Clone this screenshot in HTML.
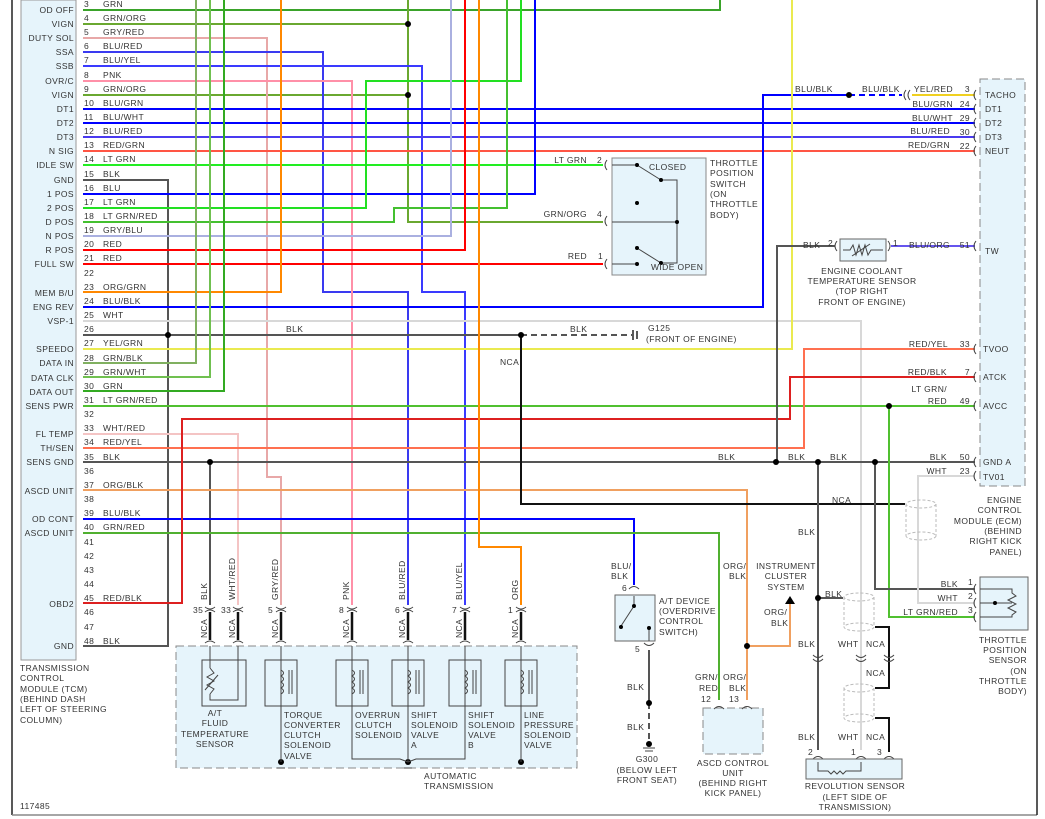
<!DOCTYPE html>
<html><head><meta charset="utf-8"><style>
html,body{margin:0;padding:0;background:#fff}
svg{display:block}
text{font-family:"Liberation Sans",sans-serif;font-size:8.5px;fill:#333;letter-spacing:0.4px}
.r{text-anchor:end}.m{text-anchor:middle}
.w{fill:none;stroke-width:2}
.k{fill:none;stroke:#444;stroke-width:1}
</style></head><body>
<svg width="1045" height="819" viewBox="0 0 1045 819" xmlns="http://www.w3.org/2000/svg">
<line x1="12" y1="0" x2="12" y2="815" stroke="#222" stroke-width="1.5"/>
<line x1="12" y1="815" x2="1037" y2="815" stroke="#888" stroke-width="1.5"/>
<line x1="1037" y1="0" x2="1037" y2="815" stroke="#222" stroke-width="1.5"/>
<rect x="21" y="0" width="55" height="660" fill="#e6f4fb" stroke="#999" stroke-width="1"/>
<rect x="980" y="79" width="45" height="407" fill="#e6f4fb" stroke="#888" stroke-dasharray="8,4"/>
<rect x="176" y="646" width="401" height="122" fill="#e6f4fb" stroke="#888" stroke-dasharray="8,4"/>
<rect x="703" y="708" width="60" height="46" fill="#e6f4fb" stroke="#888" stroke-dasharray="8,4"/>

<g class="w">
<polyline points="83,10 720,10 720,0" stroke="#3aa32a"/>
<polyline points="83,24 408,24" stroke="#6aa830"/>
<polyline points="83,95 408,95" stroke="#6aa830"/>
<polyline points="408,0 408,222 603,222" stroke="#6aa830"/>
<polyline points="83,38 267,38 267,477 281,477 281,605" stroke="#e8a8a8"/>
<polyline points="83,52 323,52 323,292 408,292 408,605" stroke="#3a3af0"/>
<polyline points="83,66 422,66 422,292 465,292 465,605" stroke="#3a3aff"/>
<polyline points="83,81 352,81 352,605" stroke="#ff90a8"/>
<polyline points="83,109 975,109" stroke="#0000ff"/>
<polyline points="83,123 975,123" stroke="#0000ff"/>
<polyline points="83,137 975,137" stroke="#4a3af0"/>
<polyline points="83,151 975,151" stroke="#ff5544"/>
<polyline points="83,165 603,165" stroke="#22ee22"/>
<polyline points="83,180 168,180 168,646 83,646" stroke="#555"/>
<polyline points="83,194 535,194 535,0" stroke="#0000ff"/>
<polyline points="83,208 366,208 366,81 521,81 521,0" stroke="#22e022"/>
<polyline points="83,222 394,222 394,208 507,208 507,0" stroke="#44c030"/>
<polyline points="83,236 451,236 451,0" stroke="#aab0e0"/>
<polyline points="83,250 465,250 465,0" stroke="#ff0000"/>
<polyline points="83,264 603,264" stroke="#ff0000"/>
<polyline points="83,292 281,292 281,0" stroke="#ff8800"/>
<polyline points="83,307 763,307 763,95 849,95" stroke="#0000ff"/>
<polyline points="849,95 902,95" stroke="#0000ff" stroke-dasharray="6,4"/>
<polyline points="912,95 975,95" stroke="#f0d020"/>
<polyline points="83,321 861,321 861,750" stroke="#d8d8d8"/>
<polyline points="83,335 521,335" stroke="#555"/>
<polyline points="521,335 632,335" stroke="#555" stroke-dasharray="6,4"/>
<polyline points="83,349 792,349 792,0" stroke="#eaea50"/>
<polyline points="83,363 196,363 196,0" stroke="#80b060"/>
<polyline points="83,377 210,377 210,0" stroke="#70c050"/>
<polyline points="83,391 224,391 224,0" stroke="#33aa22"/>
<polyline points="83,406 975,406" stroke="#50c030"/>
<polyline points="83,434 238,434 238,605" stroke="#f4c4c4"/>
<polyline points="83,448 804,448 804,349 975,349" stroke="#ff7050"/>
<polyline points="83,462 975,462" stroke="#555"/>
<polyline points="210,462 210,605" stroke="#555"/>
<polyline points="83,490 747,490 747,700" stroke="#f0a060"/>
<polyline points="83,519 634,519 634,585" stroke="#0000ff"/>
<polyline points="83,533 719,533 719,700" stroke="#50b030"/>
<polyline points="83,603 182,603 182,419 790,419 790,377 975,377" stroke="#dd2020"/>
<polyline points="479,0 479,547 521,547 521,605" stroke="#ff8800"/>
<polyline points="777,462 777,246 835,246" stroke="#555"/>
<polyline points="891,246 975,246" stroke="#6655ee"/>
<polyline points="521,335 521,504 905,504" stroke="#111"/>
<polyline points="889,406 889,617 975,617" stroke="#50c030"/>
<polyline points="875,462 875,589 975,589" stroke="#555"/>
<polyline points="975,476 918,476 918,603 975,603" stroke="#d8d8d8"/>
<polyline points="818,462 818,750" stroke="#555"/>
<polyline points="747,646 790,646 790,604" stroke="#f0a060"/>
<polyline points="818,598 843,598" stroke="#555"/>
<polyline points="649,650 649,703" stroke="#555"/>
<polyline points="649,703 649,742" stroke="#555" stroke-dasharray="6,4"/>
<polyline points="875,627 889,627 889,688 875,688" stroke="#111"/>
<polyline points="875,718 889,718 889,752" stroke="#111"/>
</g>
<g fill="none" stroke="#bbb" stroke-dasharray="3,2">
<ellipse cx="921" cy="504" rx="15" ry="4"/><ellipse cx="921" cy="536" rx="15" ry="4"/>
<line x1="906" y1="504" x2="906" y2="536"/><line x1="936" y1="504" x2="936" y2="536"/>
<ellipse cx="859" cy="597" rx="15" ry="4"/><ellipse cx="859" cy="627" rx="15" ry="4"/>
<line x1="844" y1="597" x2="844" y2="627"/><line x1="874" y1="597" x2="874" y2="627"/>
<ellipse cx="859" cy="688" rx="15" ry="4"/><ellipse cx="859" cy="718" rx="15" ry="4"/>
<line x1="844" y1="688" x2="844" y2="718"/><line x1="874" y1="688" x2="874" y2="718"/>
</g>
<g fill="#000">
<circle cx="408" cy="24" r="3"/><circle cx="408" cy="95" r="3"/>
<circle cx="168" cy="335" r="3"/><circle cx="521" cy="335" r="3"/>
<circle cx="849" cy="95" r="3"/><circle cx="210" cy="462" r="3"/>
<circle cx="776" cy="462" r="3"/><circle cx="818" cy="462" r="3"/>
<circle cx="875" cy="462" r="3"/><circle cx="889" cy="406" r="3"/>
<circle cx="818" cy="598" r="3"/><circle cx="747" cy="646" r="3"/>
<circle cx="649" cy="703" r="3"/>
<circle cx="281" cy="762" r="3"/><circle cx="408" cy="762" r="3"/><circle cx="521" cy="762" r="3"/>
<circle cx="649" cy="744" r="3"/>
</g>
<g stroke="#222" stroke-width="1.5"><line x1="633" y1="330" x2="633" y2="340"/><line x1="637" y1="331" x2="637" y2="339"/></g>
<text x="648" y="331">G125</text><text x="646" y="342">(FRONT OF ENGINE)</text>
<polygon points="790,596 785,604 795,604" fill="#000"/>

<g class="r">
<text x="74" y="13">OD OFF</text><text x="74" y="27">VIGN</text><text x="74" y="41">DUTY SOL</text>
<text x="74" y="55">SSA</text><text x="74" y="69">SSB</text><text x="74" y="84">OVR/C</text>
<text x="74" y="98">VIGN</text><text x="74" y="112">DT1</text><text x="74" y="126">DT2</text>
<text x="74" y="140">DT3</text><text x="74" y="154">N SIG</text><text x="74" y="168">IDLE SW</text>
<text x="74" y="183">GND</text><text x="74" y="197">1 POS</text><text x="74" y="211">2 POS</text>
<text x="74" y="225">D POS</text><text x="74" y="239">N POS</text><text x="74" y="253">R POS</text>
<text x="74" y="267">FULL SW</text><text x="74" y="296">MEM B/U</text><text x="74" y="310">ENG REV</text>
<text x="74" y="324">VSP-1</text><text x="74" y="352">SPEEDO</text><text x="74" y="366">DATA IN</text>
<text x="74" y="381">DATA CLK</text><text x="74" y="395">DATA OUT</text><text x="74" y="409">SENS PWR</text>
<text x="74" y="437">FL TEMP</text><text x="74" y="451">TH/SEN</text><text x="74" y="465">SENS GND</text>
<text x="74" y="494">ASCD UNIT</text><text x="74" y="522">OD CONT</text><text x="74" y="536">ASCD UNIT</text>
<text x="74" y="607">OBD2</text><text x="74" y="649">GND</text>
</g>
<g>
<text x="84" y="7">3</text><text x="103" y="7">GRN</text>
<text x="84" y="21">4</text><text x="103" y="21">GRN/ORG</text>
<text x="84" y="35">5</text><text x="103" y="35">GRY/RED</text>
<text x="84" y="49">6</text><text x="103" y="49">BLU/RED</text>
<text x="84" y="63">7</text><text x="103" y="63">BLU/YEL</text>
<text x="84" y="78">8</text><text x="103" y="78">PNK</text>
<text x="84" y="92">9</text><text x="103" y="92">GRN/ORG</text>
<text x="84" y="106">10</text><text x="103" y="106">BLU/GRN</text>
<text x="84" y="120">11</text><text x="103" y="120">BLU/WHT</text>
<text x="84" y="134">12</text><text x="103" y="134">BLU/RED</text>
<text x="84" y="148">13</text><text x="103" y="148">RED/GRN</text>
<text x="84" y="162">14</text><text x="103" y="162">LT GRN</text>
<text x="84" y="177">15</text><text x="103" y="177">BLK</text>
<text x="84" y="191">16</text><text x="103" y="191">BLU</text>
<text x="84" y="205">17</text><text x="103" y="205">LT GRN</text>
<text x="84" y="219">18</text><text x="103" y="219">LT GRN/RED</text>
<text x="84" y="233">19</text><text x="103" y="233">GRY/BLU</text>
<text x="84" y="247">20</text><text x="103" y="247">RED</text>
<text x="84" y="261">21</text><text x="103" y="261">RED</text>
<text x="84" y="276">22</text>
<text x="84" y="290">23</text><text x="103" y="290">ORG/GRN</text>
<text x="84" y="304">24</text><text x="103" y="304">BLU/BLK</text>
<text x="84" y="318">25</text><text x="103" y="318">WHT</text>
<text x="84" y="332">26</text><text x="286" y="332">BLK</text><text x="570" y="332">BLK</text>
<text x="84" y="346">27</text><text x="103" y="346">YEL/GRN</text>
<text x="84" y="361">28</text><text x="103" y="361">GRN/BLK</text>
<text x="84" y="375">29</text><text x="103" y="375">GRN/WHT</text>
<text x="84" y="389">30</text><text x="103" y="389">GRN</text>
<text x="84" y="403">31</text><text x="103" y="403">LT GRN/RED</text>
<text x="84" y="417">32</text>
<text x="84" y="431">33</text><text x="103" y="431">WHT/RED</text>
<text x="84" y="445">34</text><text x="103" y="445">RED/YEL</text>
<text x="84" y="460">35</text><text x="103" y="460">BLK</text>
<text x="84" y="474">36</text>
<text x="84" y="488">37</text><text x="103" y="488">ORG/BLK</text>
<text x="84" y="502">38</text>
<text x="84" y="516">39</text><text x="103" y="516">BLU/BLK</text>
<text x="84" y="530">40</text><text x="103" y="530">GRN/RED</text>
<text x="84" y="545">41</text><text x="84" y="559">42</text><text x="84" y="573">43</text><text x="84" y="587">44</text>
<text x="84" y="601">45</text><text x="103" y="601">RED/BLK</text>
<text x="84" y="615">46</text><text x="84" y="630">47</text>
<text x="84" y="644">48</text><text x="103" y="644">BLK</text>
</g>
<text x="20" y="671">TRANSMISSION</text><text x="20" y="681">CONTROL</text><text x="20" y="692">MODULE (TCM)</text>
<text x="20" y="702">(BEHIND DASH</text><text x="20" y="712">LEFT OF STEERING</text><text x="20" y="723">COLUMN)</text>
<text x="20" y="809">117485</text>

<g>
<text x="985" y="98">TACHO</text><text x="985" y="112">DT1</text><text x="985" y="126">DT2</text>
<text x="985" y="140">DT3</text><text x="985" y="154">NEUT</text><text x="985" y="254">TW</text>
<text x="983" y="352">TVOO</text><text x="983" y="380">ATCK</text><text x="983" y="409">AVCC</text>
<text x="983" y="465">GND A</text><text x="983" y="480">TV01</text>
</g>
<g class="r">
<text x="970" y="92">3</text><text x="953" y="92">YEL/RED</text>
<text x="970" y="107">24</text><text x="953" y="107">BLU/GRN</text>
<text x="970" y="121">29</text><text x="953" y="121">BLU/WHT</text>
<text x="970" y="135">30</text><text x="950" y="134">BLU/RED</text>
<text x="970" y="149">22</text><text x="950" y="148">RED/GRN</text>
<text x="970" y="248">51</text><text x="950" y="248">BLU/ORG</text>
<text x="970" y="347">33</text><text x="948" y="347">RED/YEL</text>
<text x="970" y="375">7</text><text x="947" y="375">RED/BLK</text>
<text x="947" y="392">LT GRN/</text>
<text x="970" y="404">49</text><text x="947" y="404">RED</text>
<text x="970" y="460">50</text><text x="947" y="460">BLK</text>
<text x="970" y="474">23</text><text x="947" y="474">WHT</text>
<text x="1022" y="503">ENGINE</text><text x="1022" y="513">CONTROL</text><text x="1022" y="524">MODULE (ECM)</text>
<text x="1022" y="534">(BEHIND</text><text x="1022" y="544">RIGHT KICK</text><text x="1022" y="555">PANEL)</text>
</g>
<text x="795" y="92">BLU/BLK</text><text x="862" y="92">BLU/BLK</text>
<text x="718" y="460">BLK</text><text x="788" y="460">BLK</text><text x="830" y="460">BLK</text>
<text x="832" y="503">NCA</text>

<g class="k">
<path d="M976,90 q-4,5 0,10"/><path d="M976,104 q-4,5 0,10"/><path d="M976,118 q-4,5 0,10"/>
<path d="M976,132 q-4,5 0,10"/><path d="M976,146 q-4,5 0,10"/><path d="M976,241 q-4,5 0,10"/>
<path d="M976,344 q-4,5 0,10"/><path d="M976,372 q-4,5 0,10"/><path d="M976,401 q-4,5 0,10"/>
<path d="M976,457 q-4,5 0,10"/><path d="M976,471 q-4,5 0,10"/>
<path d="M906,90 q-4,5 0,10"/><path d="M910,90 q-4,5 0,10"/>
</g>

<rect x="612" y="158" width="94" height="117" fill="#e6f4fb" stroke="#888"/>
<g class="k" stroke="#444">
<path d="M607,160 q-4,5 0,10"/><path d="M607,216 q-4,5 0,10"/><path d="M607,259 q-4,5 0,10"/>
<line x1="612" y1="165" x2="637" y2="165"/><line x1="637" y1="165" x2="661" y2="180"/>
<polyline points="661,180 677,180 677,263 661,263"/><line x1="612" y1="222" x2="677" y2="222"/>
<line x1="637" y1="248" x2="661" y2="263"/>
<line x1="612" y1="264" x2="637" y2="264"/>
</g>
<g fill="#000"><circle cx="637" cy="165" r="2"/><circle cx="661" cy="180" r="2"/><circle cx="637" cy="203" r="2"/>
<circle cx="677" cy="222" r="2"/><circle cx="637" cy="248" r="2"/><circle cx="661" cy="263" r="2"/><circle cx="637" cy="264" r="2"/></g>
<text x="649" y="170">CLOSED</text><text x="651" y="270">WIDE OPEN</text>
<text x="710" y="166">THROTTLE</text><text x="710" y="176">POSITION</text><text x="710" y="187">SWITCH</text>
<text x="710" y="197">(ON</text><text x="710" y="207">THROTTLE</text><text x="710" y="218">BODY)</text>
<text class="r" x="587" y="163">LT GRN</text><text x="597" y="163">2</text>
<text class="r" x="587" y="217">GRN/ORG</text><text x="597" y="217">4</text>
<text class="r" x="587" y="259">RED</text><text x="598" y="259">1</text>

<rect x="840" y="239" width="46" height="22" fill="#e6f4fb" stroke="#666"/>
<polyline points="843,250 850,250 853,245 856,255 859,245 862,255 865,245 868,255 871,250 883,250" fill="none" stroke="#444" stroke-width="1"/>
<line x1="852" y1="256" x2="870" y2="244" stroke="#444"/>
<g class="k"><path d="M837,241 q-4,5 0,10"/><path d="M888,241 q4,5 0,10"/></g>
<text x="803" y="248">BLK</text><text x="828" y="246">2</text><text x="893" y="246">1</text>
<g class="m"><text x="862" y="274">ENGINE COOLANT</text><text x="862" y="284">TEMPERATURE SENSOR</text>
<text x="862" y="294">(TOP RIGHT</text><text x="862" y="305">FRONT OF ENGINE)</text></g>
<text x="500" y="365">NCA</text>

<rect x="980" y="577" width="48" height="53" fill="#e6f4fb" stroke="#666"/>
<g class="k"><path d="M976,584 q-4,5 0,10"/><path d="M976,598 q-4,5 0,10"/><path d="M976,612 q-4,5 0,10"/>
<polyline points="980,589 1012,589 1012,593 1016,596 1008,600 1016,604 1008,608 1016,612 1012,615 1012,617 980,617"/>
<line x1="980" y1="603" x2="1012" y2="603"/></g>
<circle cx="995" cy="603" r="2" fill="#000"/>
<text class="r" x="958" y="587">BLK</text><text x="968" y="585">1</text>
<text class="r" x="958" y="601">WHT</text><text x="968" y="599">2</text>
<text class="r" x="958" y="615">LT GRN/RED</text><text x="968" y="613">3</text>
<g class="r"><text x="1027" y="643">THROTTLE</text><text x="1027" y="653">POSITION</text><text x="1027" y="663">SENSOR</text>
<text x="1027" y="674">(ON</text><text x="1027" y="684">THROTTLE</text><text x="1027" y="694">BODY)</text></g>

<rect x="615" y="595" width="40" height="46" fill="#e6f4fb" stroke="#666"/>
<g class="k"><line x1="634" y1="596" x2="634" y2="606"/><line x1="634" y1="606" x2="621" y2="626"/>
<line x1="649" y1="629" x2="649" y2="641"/><path d="M644,643 q5,5 10,0"/><path d="M629,589 q5,-5 10,0"/></g>
<circle cx="634" cy="606" r="2" fill="#000"/><circle cx="621" cy="627" r="2" fill="#000"/><circle cx="649" cy="628" r="2" fill="#000"/>
<text x="611" y="569">BLU/</text><text x="611" y="579">BLK</text><text x="622" y="591">6</text><text x="635" y="652">5</text>
<text x="659" y="604">A/T DEVICE</text><text x="659" y="614">(OVERDRIVE</text><text x="659" y="624">CONTROL</text><text x="659" y="635">SWITCH)</text>
<text x="627" y="690">BLK</text><text x="627" y="730">BLK</text>
<line x1="643" y1="748" x2="655" y2="748" stroke="#444"/><line x1="645" y1="751" x2="653" y2="751" stroke="#444"/>
<g class="m"><text x="647" y="762">G300</text><text x="647" y="773">(BELOW LEFT</text><text x="647" y="783">FRONT SEAT)</text></g>

<text x="723" y="569">ORG/</text><text x="729" y="579">BLK</text>
<text x="764" y="615">ORG/</text><text x="771" y="626">BLK</text>
<g class="m"><text x="786" y="569">INSTRUMENT</text><text x="786" y="579">CLUSTER</text><text x="786" y="590">SYSTEM</text></g>
<text x="695" y="680">GRN/</text><text x="699" y="691">RED</text><text x="723" y="680">ORG/</text><text x="729" y="691">BLK</text>
<text x="701" y="702">12</text><text x="729" y="702">13</text>
<g class="k"><path d="M714,709 q5,-5 10,0"/><path d="M742,709 q5,-5 10,0"/></g>
<g class="m"><text x="733" y="766">ASCD CONTROL</text><text x="733" y="776">UNIT</text><text x="733" y="786">(BEHIND RIGHT</text><text x="733" y="796">KICK PANEL)</text></g>

<text x="798" y="535">BLK</text><text x="825" y="597">BLK</text>
<text x="798" y="647">BLK</text><text x="838" y="647">WHT</text><text x="866" y="647">NCA</text>
<text x="866" y="676">NCA</text>
<text x="798" y="740">BLK</text><text x="838" y="740">WHT</text><text x="866" y="740">NCA</text>
<g class="k"><path d="M813,655 q5,5 10,0"/><path d="M813,659 q5,5 10,0"/><path d="M856,655 q5,5 10,0"/><path d="M856,659 q5,5 10,0"/>
<path d="M884,655 q5,5 10,0"/><path d="M884,659 q5,5 10,0"/>
<path d="M813,759 q5,-5 10,0"/><path d="M856,759 q5,-5 10,0"/><path d="M884,759 q5,-5 10,0"/></g>
<text x="808" y="755">2</text><text x="851" y="755">1</text><text x="877" y="755">3</text>
<rect x="806" y="759" width="96" height="20" fill="#e6f4fb" stroke="#666"/>
<polyline points="818,762 818,771 828,771 831,774 834,771 837,774 840,771 843,774 846,771 861,771 861,762" fill="none" stroke="#444"/>
<g class="m"><text x="855" y="789">REVOLUTION SENSOR</text><text x="855" y="800">(LEFT SIDE OF</text><text x="855" y="810">TRANSMISSION)</text></g>

<g stroke="#111" stroke-width="2.5">
<line x1="210" y1="612" x2="210" y2="640"/><line x1="238" y1="612" x2="238" y2="640"/>
<line x1="281" y1="612" x2="281" y2="640"/><line x1="352" y1="612" x2="352" y2="640"/>
<line x1="408" y1="612" x2="408" y2="640"/><line x1="465" y1="612" x2="465" y2="640"/>
<line x1="521" y1="612" x2="521" y2="640"/>
</g>
<g class="k">
<path d="M205,607 q5,4 10,0"/><path d="M205,612 q5,-4 10,0"/><path d="M233,607 q5,4 10,0"/><path d="M233,612 q5,-4 10,0"/>
<path d="M276,607 q5,4 10,0"/><path d="M276,612 q5,-4 10,0"/><path d="M347,607 q5,4 10,0"/><path d="M347,612 q5,-4 10,0"/>
<path d="M403,607 q5,4 10,0"/><path d="M403,612 q5,-4 10,0"/><path d="M460,607 q5,4 10,0"/><path d="M460,612 q5,-4 10,0"/>
<path d="M516,607 q5,4 10,0"/><path d="M516,612 q5,-4 10,0"/>
<path d="M205,643 q5,-4 10,0"/><path d="M233,643 q5,-4 10,0"/><path d="M276,643 q5,-4 10,0"/><path d="M347,643 q5,-4 10,0"/>
<path d="M403,643 q5,-4 10,0"/><path d="M460,643 q5,-4 10,0"/><path d="M516,643 q5,-4 10,0"/>
<polyline points="210,646 210,668"/><polyline points="238,646 238,700 210,700 210,694"/>
<polyline points="281,646 281,762"/><polyline points="352,646 352,759 400,759 408,762"/>
<polyline points="408,646 408,762"/><polyline points="465,646 465,759 416,759 408,762"/>
<polyline points="521,646 521,762"/>
<rect x="202" y="660" width="44" height="46"/><rect x="265" y="660" width="32" height="46"/>
<rect x="336" y="660" width="32" height="46"/><rect x="392" y="660" width="32" height="46"/>
<rect x="449" y="660" width="32" height="46"/><rect x="505" y="660" width="32" height="46"/>
<polyline points="210,668 214,673 207,677 214,681 207,685 214,689 210,694"/>
<line x1="205" y1="690" x2="218" y2="675"/>
</g>
<g fill="none" stroke="#444" stroke-width="1">
<path d="M281,670 q5,3 0,6 q5,3 0,6 q5,3 0,6 q5,3 0,6"/><line x1="289" y1="670" x2="289" y2="694"/><line x1="292" y1="670" x2="292" y2="694"/>
<path d="M352,670 q5,3 0,6 q5,3 0,6 q5,3 0,6 q5,3 0,6"/><line x1="360" y1="670" x2="360" y2="694"/><line x1="363" y1="670" x2="363" y2="694"/>
<path d="M408,670 q5,3 0,6 q5,3 0,6 q5,3 0,6 q5,3 0,6"/><line x1="416" y1="670" x2="416" y2="694"/><line x1="419" y1="670" x2="419" y2="694"/>
<path d="M465,670 q5,3 0,6 q5,3 0,6 q5,3 0,6 q5,3 0,6"/><line x1="473" y1="670" x2="473" y2="694"/><line x1="476" y1="670" x2="476" y2="694"/>
<path d="M521,670 q5,3 0,6 q5,3 0,6 q5,3 0,6 q5,3 0,6"/><line x1="529" y1="670" x2="529" y2="694"/><line x1="532" y1="670" x2="532" y2="694"/>
<line x1="277" y1="768" x2="285" y2="768"/><line x1="404" y1="768" x2="412" y2="768"/><line x1="517" y1="768" x2="525" y2="768"/>
</g>
<g>
<text transform="translate(207,600) rotate(-90)">BLK</text>
<text transform="translate(235,600) rotate(-90)">WHT/RED</text>
<text transform="translate(278,600) rotate(-90)">GRY/RED</text>
<text transform="translate(349,600) rotate(-90)">PNK</text>
<text transform="translate(405,600) rotate(-90)">BLU/RED</text>
<text transform="translate(462,600) rotate(-90)">BLU/YEL</text>
<text transform="translate(518,600) rotate(-90)">ORG</text>
<text transform="translate(207,638) rotate(-90)">NCA</text>
<text transform="translate(235,638) rotate(-90)">NCA</text>
<text transform="translate(278,638) rotate(-90)">NCA</text>
<text transform="translate(349,638) rotate(-90)">NCA</text>
<text transform="translate(405,638) rotate(-90)">NCA</text>
<text transform="translate(462,638) rotate(-90)">NCA</text>
<text transform="translate(518,638) rotate(-90)">NCA</text>
</g>
<text x="193" y="613">35</text><text x="221" y="613">33</text><text x="268" y="613">5</text><text x="339" y="613">8</text>
<text x="395" y="613">6</text><text x="452" y="613">7</text><text x="508" y="613">1</text>
<g class="m"><text x="215" y="716">A/T</text><text x="215" y="726">FLUID</text><text x="215" y="737">TEMPERATURE</text><text x="215" y="747">SENSOR</text></g>
<text x="284" y="718">TORQUE</text><text x="284" y="728">CONVERTER</text><text x="284" y="738">CLUTCH</text><text x="284" y="748">SOLENOID</text><text x="284" y="759">VALVE</text>
<text x="355" y="718">OVERRUN</text><text x="355" y="728">CLUTCH</text><text x="355" y="738">SOLENOID</text>
<text x="411" y="718">SHIFT</text><text x="411" y="728">SOLENOID</text><text x="411" y="738">VALVE</text><text x="411" y="748">A</text>
<text x="468" y="718">SHIFT</text><text x="468" y="728">SOLENOID</text><text x="468" y="738">VALVE</text><text x="468" y="748">B</text>
<text x="524" y="718">LINE</text><text x="524" y="728">PRESSURE</text><text x="524" y="738">SOLENOID</text><text x="524" y="748">VALVE</text>
<text x="424" y="779">AUTOMATIC</text><text x="424" y="789">TRANSMISSION</text>
</svg>
</body></html>
